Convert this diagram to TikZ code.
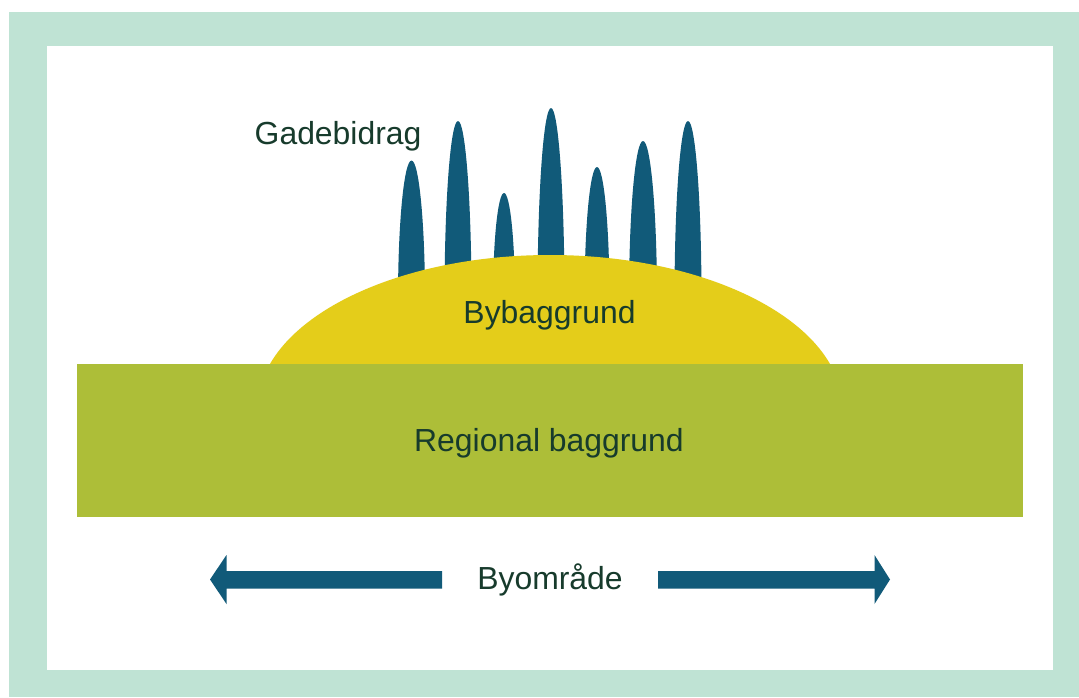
\documentclass[tikz,border=0pt]{standalone}
\usepackage{fontspec}
\setmainfont{Liberation Sans}
\definecolor{mint}{HTML}{BFE3D4}
\definecolor{regiongreen}{HTML}{ADBE38}
\definecolor{cityyellow}{HTML}{E4CD1A}
\definecolor{streetblue}{HTML}{115A79}
\definecolor{labeltext}{HTML}{173B2C}
\tikzset{
  lbl/.style={inner sep=0pt, text=labeltext, font=\fontsize{31.9}{38}\selectfont},
  spike/.style={fill=streetblue},
  bigarrow/.style={fill=streetblue}
}
% spike: #1 centre x, #2 half width, #3 top y (base at 300)
\newcommand{\streetspike}[3]{%
  \fill[spike] (#1-#2,300) .. controls (#1-#2,{300-0.552*(300-#3)}) and ({#1-0.552*#2},#3) .. (#1,#3)
    .. controls ({#1+0.552*#2},#3) and (#1+#2,{300-0.552*(300-#3)}) .. (#1+#2,300) -- cycle;}
\begin{document}
\begin{tikzpicture}[x=1pt,y=-1pt]
\useasboundingbox (0,0) rectangle (1079,697);
\fill[white] (0,0) rectangle (1079,697);
\fill[mint] (9,12) rectangle (1079,697);
\fill[white] (47,46) rectangle (1053,670);
% street contributions
\streetspike{411.5}{13.5}{160.5}
\streetspike{458}{13.5}{121}
\streetspike{504}{11}{193}
\streetspike{551}{13.5}{108}
\streetspike{597}{12.5}{167}
\streetspike{643}{14}{141}
\streetspike{688}{13.5}{121}
% city background dome
\begin{scope}
  \clip (0,0) rectangle (1079,364);
  \fill[cityyellow] (550,408.2) ellipse [x radius=292.4, y radius=153.2];
\end{scope}
% regional background
\fill[regiongreen] (77,364) rectangle (1023,517);
% labels
\node[lbl, anchor=base west] (gade) at (254.5,144) {Gadebidrag};
\node[lbl, anchor=base] (by) at (549.5,323.5) {Bybaggrund};
\node[lbl, anchor=base] (reg) at (549,451) {Regional baggrund};
\node[lbl, anchor=base] (omr) at (550,589) {Byområde};
% arrows
\fill[bigarrow] (442,571) -- (226.5,571) -- (226.5,555) -- (210,579.5) -- (226.5,604) -- (226.5,588.5) -- (442,588.5) -- cycle;
\fill[bigarrow] (658,571) -- (874.5,571) -- (874.5,555) -- (890,579.5) -- (874.5,604) -- (874.5,588.5) -- (658,588.5) -- cycle;
\end{tikzpicture}
\end{document}
